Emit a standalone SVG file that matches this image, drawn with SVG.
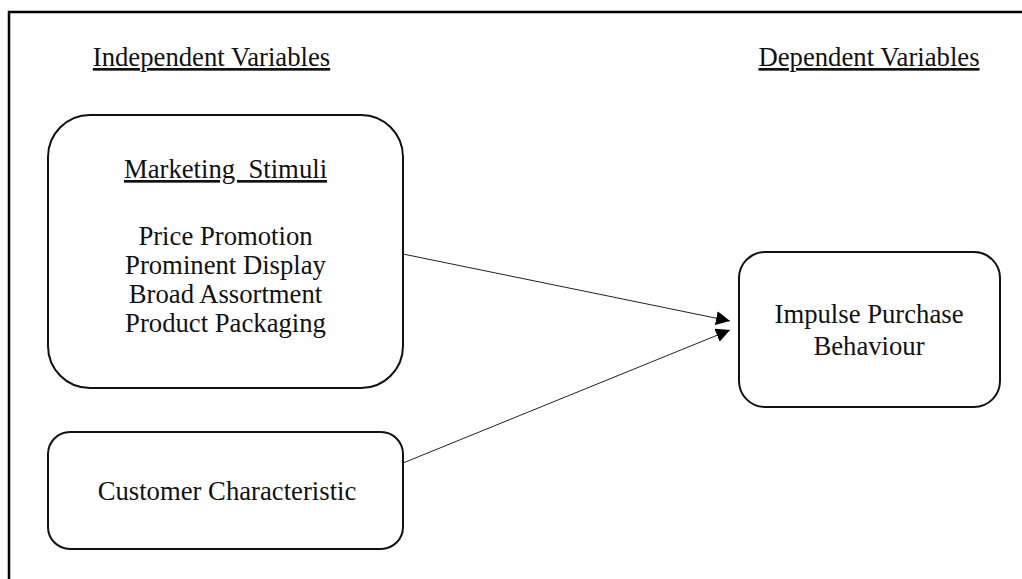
<svg xmlns="http://www.w3.org/2000/svg" width="1022" height="579" viewBox="0 0 1022 579">
<style>
text{font-family:"Liberation Serif","Times New Roman",serif;font-size:26.7px;fill:#111;}
.box{fill:#fff;stroke:#111;stroke-width:2;}
.u{text-decoration:underline;}
.c{text-anchor:middle;}
.edge{stroke:#222;stroke-width:1;fill:none;}
</style>
<defs>
<marker id="ah" viewBox="0 0 10 10" refX="10" refY="5" markerWidth="14" markerHeight="14" markerUnits="userSpaceOnUse" orient="auto">
<path d="M0,0 L10,5 L0,10 z" fill="#000"/>
</marker>
</defs>
<rect width="1022" height="579" fill="#fff"/>
<rect x="9" y="12" width="1030" height="600" fill="none" stroke="#000" stroke-width="2.5"/>
<g id="hdr-independent"><text x="211.5" y="66" class="c u">Independent Variables</text></g>
<g id="hdr-dependent"><text x="869" y="66" class="c u">Dependent Variables</text></g>
<g id="connectors">
<line class="edge" x1="403" y1="254" x2="730" y2="321" marker-end="url(#ah)"/>
<line class="edge" x1="403" y1="463" x2="730" y2="330" marker-end="url(#ah)"/>
</g>
<g id="marketing-stimuli">
<rect class="box" x="48" y="115" width="355" height="273" rx="42" ry="42"/>
<text x="225.5" y="178" class="c u" xml:space="preserve">Marketing  Stimuli</text>
<text x="225.5" y="245" class="c">Price Promotion</text>
<text x="225.5" y="274" class="c">Prominent Display</text>
<text x="225.5" y="303" class="c">Broad Assortment</text>
<text x="225.5" y="332" class="c">Product Packaging</text>
</g>
<g id="customer-characteristic">
<rect class="box" x="48" y="432" width="355" height="117" rx="22" ry="22"/>
<text x="227" y="500" class="c">Customer Characteristic</text>
</g>
<g id="impulse-purchase">
<rect class="box" x="739" y="252" width="261" height="155" rx="26" ry="26"/>
<text x="869" y="323" class="c">Impulse Purchase</text>
<text x="869" y="355" class="c">Behaviour</text>
</g>
</svg>
